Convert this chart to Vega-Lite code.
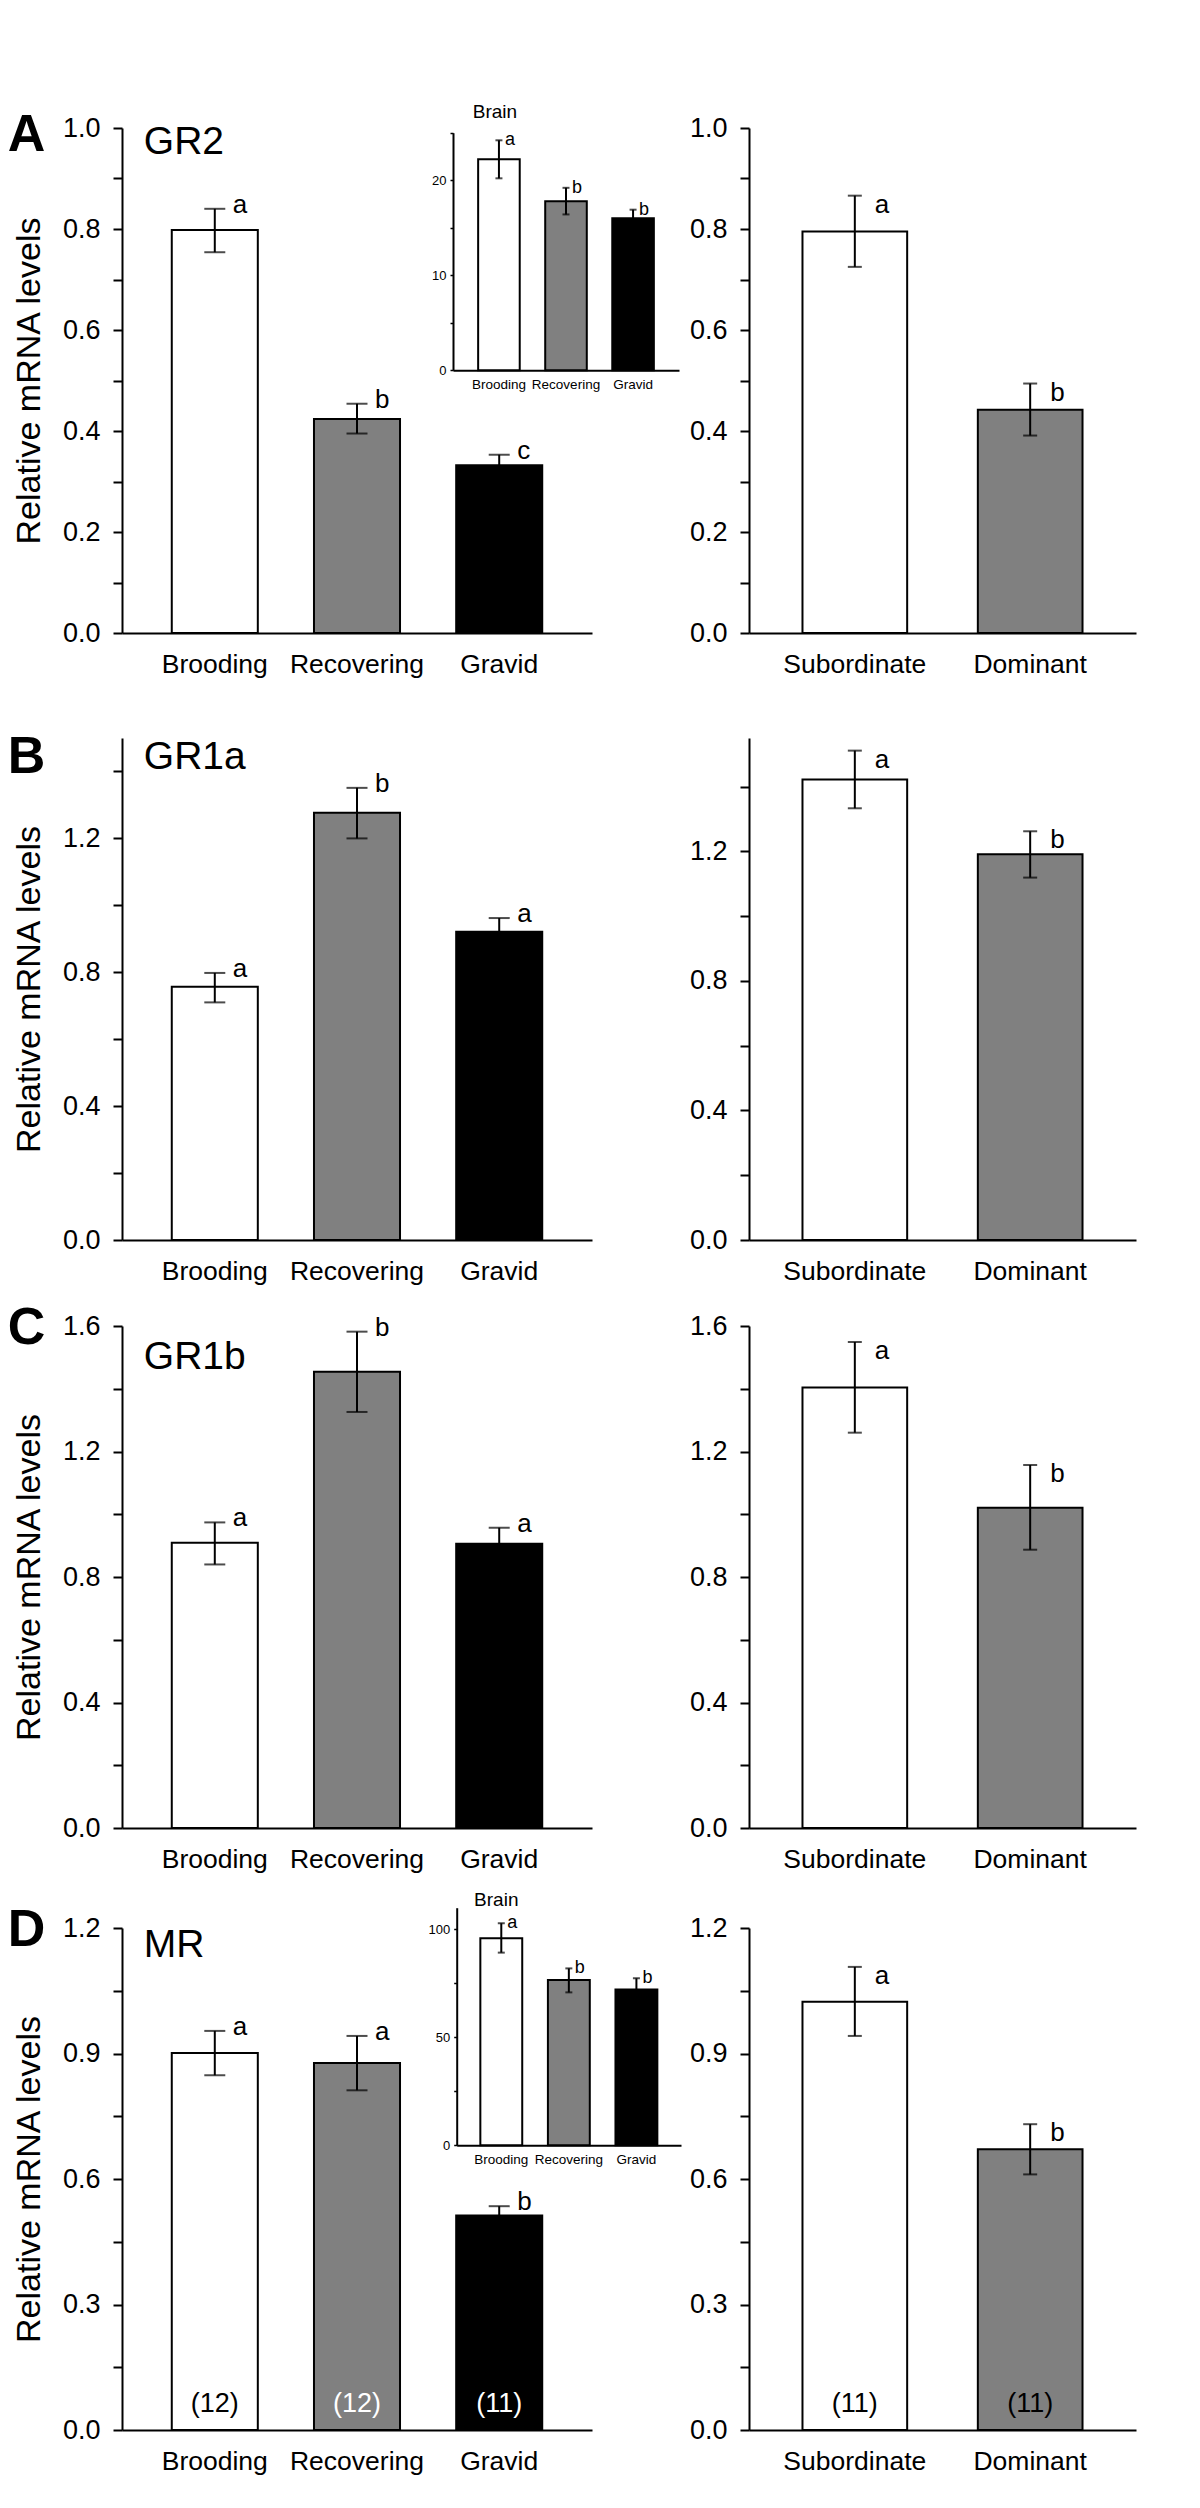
{
  "$schema": "https://vega.github.io/schema/vega-lite/v6.json",
  "padding": {"left": 7, "top": 102, "right": 10, "bottom": 10},
  "background": "white",
  "config": {
    "font": "Liberation Sans",
    "view": {"stroke": null},
    "axis": {"grid": false, "domainColor": "#000", "tickColor": "#000", "labelColor": "#000", "titleColor": "#000", "domainWidth": 2, "tickWidth": 2, "labelOverlap": false, "labelFlush": false, "labelFont": "Liberation Sans", "titleFont": "Liberation Sans"},
    "axisX": {"ticks": false, "labelAngle": 0, "labelFontSize": 26.5, "labelPadding": 18},
    "axisY": {"tickSize": 9, "labelFontSize": 27, "labelPadding": 13, "titleFontSize": 34, "titleFontWeight": "normal", "titlePadding": 16},
    "text": {"color": "#000", "font": "Liberation Sans"}
  },
  "datasets": {
    "A_left": [
      {"group": "Brooding", "mean": 0.798, "lo": 0.754, "hi": 0.840, "letter": "a", "gene": "GR2", "panel": "A"},
      {"group": "Recovering", "mean": 0.424, "lo": 0.395, "hi": 0.454, "letter": "b", "gene": "GR2", "panel": "A"},
      {"group": "Gravid", "mean": 0.332, "lo": 0.311, "hi": 0.353, "letter": "c", "gene": "GR2", "panel": "A"}
    ],
    "A_right": [
      {"group": "Subordinate", "mean": 0.795, "lo": 0.725, "hi": 0.866, "letter": "a"},
      {"group": "Dominant", "mean": 0.442, "lo": 0.391, "hi": 0.494, "letter": "b"}
    ],
    "A_inset": [
      {"group": "Brooding", "mean": 22.2, "lo": 20.2, "hi": 24.2, "letter": "a", "tissue": "Brain"},
      {"group": "Recovering", "mean": 17.8, "lo": 16.4, "hi": 19.2, "letter": "b", "tissue": "Brain"},
      {"group": "Gravid", "mean": 16.0, "lo": 15.1, "hi": 16.9, "letter": "b", "tissue": "Brain"}
    ],
    "B_left": [
      {"group": "Brooding", "mean": 0.757, "lo": 0.710, "hi": 0.798, "letter": "a", "gene": "GR1a", "panel": "B"},
      {"group": "Recovering", "mean": 1.277, "lo": 1.200, "hi": 1.351, "letter": "b", "gene": "GR1a", "panel": "B"},
      {"group": "Gravid", "mean": 0.921, "lo": 0.880, "hi": 0.962, "letter": "a", "gene": "GR1a", "panel": "B"}
    ],
    "B_right": [
      {"group": "Subordinate", "mean": 1.422, "lo": 1.333, "hi": 1.511, "letter": "a"},
      {"group": "Dominant", "mean": 1.191, "lo": 1.119, "hi": 1.262, "letter": "b"}
    ],
    "C_left": [
      {"group": "Brooding", "mean": 0.909, "lo": 0.840, "hi": 0.974, "letter": "a", "gene": "GR1b", "panel": "C"},
      {"group": "Recovering", "mean": 1.454, "lo": 1.326, "hi": 1.582, "letter": "b", "gene": "GR1b", "panel": "C"},
      {"group": "Gravid", "mean": 0.906, "lo": 0.855, "hi": 0.957, "letter": "a", "gene": "GR1b", "panel": "C"}
    ],
    "C_right": [
      {"group": "Subordinate", "mean": 1.404, "lo": 1.260, "hi": 1.549, "letter": "a"},
      {"group": "Dominant", "mean": 1.021, "lo": 0.887, "hi": 1.157, "letter": "b"}
    ],
    "D_left": [
      {"group": "Brooding", "mean": 0.901, "lo": 0.848, "hi": 0.954, "letter": "a", "n": "(12)", "gene": "MR", "panel": "D"},
      {"group": "Recovering", "mean": 0.877, "lo": 0.812, "hi": 0.942, "letter": "a", "n": "(12)", "gene": "MR", "panel": "D"},
      {"group": "Gravid", "mean": 0.513, "lo": 0.491, "hi": 0.535, "letter": "b", "n": "(11)", "gene": "MR", "panel": "D"}
    ],
    "D_right": [
      {"group": "Subordinate", "mean": 1.024, "lo": 0.942, "hi": 1.107, "letter": "a", "n": "(11)"},
      {"group": "Dominant", "mean": 0.671, "lo": 0.611, "hi": 0.731, "letter": "b", "n": "(11)"}
    ],
    "D_inset": [
      {"group": "Brooding", "mean": 95.8, "lo": 89.2, "hi": 102.8, "letter": "a", "tissue": "Brain"},
      {"group": "Recovering", "mean": 76.5, "lo": 70.8, "hi": 81.9, "letter": "b", "tissue": "Brain"},
      {"group": "Gravid", "mean": 72.1, "lo": 66.9, "hi": 77.3, "letter": "b", "tissue": "Brain"}
    ]
  },
  "columns": 2,
  "bounds": "flush",
  "spacing": {"row": 86, "column": 157},
  "concat": [
    {
      "width": 470, "height": 505,
      "resolve": {"scale": {"x": "independent", "y": "independent"}},
      "layer": [
        {
          "data": {"name": "A_left"},
          "layer": [
            {"mark": {"type": "bar", "stroke": "#000", "strokeWidth": 2},
             "encoding": {
               "x": {"field": "group", "type": "nominal", "scale": {"domain": ["Brooding", "Recovering", "Gravid"], "paddingInner": 0.395, "paddingOuter": 0.35}, "axis": {"title": null}},
               "y": {"field": "mean", "type": "quantitative", "scale": {"domain": [0, 1], "nice": false}, "axis": {"title": "Relative mRNA levels", "values": [0, 0.1, 0.2, 0.3, 0.4, 0.5, 0.6, 0.7, 0.8, 0.9, 1.0], "labelExpr": "round(datum.value*10) % 2 == 0 ? format(datum.value, '.1f') : ''"}},
               "fill": {"field": "group", "type": "nominal", "scale": {"domain": ["Brooding", "Recovering", "Gravid"], "range": ["#ffffff", "#808080", "#000000"]}, "legend": null}
             }},
            {"mark": {"type": "rule", "color": "#000", "strokeWidth": 2},
             "encoding": {"x": {"field": "group", "type": "nominal"}, "y": {"field": "lo", "type": "quantitative"}, "y2": {"field": "hi"}}},
            {"mark": {"type": "tick", "color": "#000", "thickness": 2, "size": 21},
             "encoding": {"x": {"field": "group", "type": "nominal"}, "y": {"field": "hi", "type": "quantitative"}}},
            {"mark": {"type": "tick", "color": "#000", "thickness": 2, "size": 21},
             "encoding": {"x": {"field": "group", "type": "nominal"}, "y": {"field": "lo", "type": "quantitative"}}},
            {"mark": {"type": "text", "align": "left", "baseline": "alphabetic", "dx": 18, "dy": 4, "fontSize": 26},
             "encoding": {"x": {"field": "group", "type": "nominal"}, "y": {"field": "hi", "type": "quantitative"}, "text": {"field": "letter"}}},
            {"transform": [{"filter": "datum.group == 'Brooding'"}],
             "mark": {"type": "text", "align": "left", "baseline": "alphabetic", "dx": -207, "fontSize": 52, "fontWeight": "bold"},
             "encoding": {"x": {"field": "group", "type": "nominal"}, "y": {"datum": 0.955, "type": "quantitative"}, "text": {"field": "panel"}}},
            {"transform": [{"filter": "datum.group == 'Brooding'"}],
             "mark": {"type": "text", "align": "left", "baseline": "alphabetic", "dx": -71, "fontSize": 39},
             "encoding": {"x": {"field": "group", "type": "nominal"}, "y": {"datum": 0.949, "type": "quantitative"}, "text": {"field": "gene"}}}
          ]
        },
        {
          "data": {"name": "A_inset"},
          "layer": [
            {"mark": {"type": "bar", "stroke": "#000", "strokeWidth": 2},
             "encoding": {
               "x": {"field": "group", "type": "nominal", "scale": {"domain": ["Brooding", "Recovering", "Gravid"], "range": [331, 557], "paddingInner": 0.38, "paddingOuter": 0.375}, "axis": {"orient": "bottom", "offset": -262.7, "title": null, "labelFontSize": 13.5, "labelPadding": 7}},
               "y": {"field": "mean", "type": "quantitative", "scale": {"domain": [0, 25], "range": [242.3, 4.7], "nice": false}, "axis": {"orient": "left", "offset": -331, "title": null, "values": [0, 5, 10, 15, 20, 25], "labelExpr": "datum.value % 10 == 0 ? datum.label : ''", "tickSize": 3, "tickWidth": 1.5, "labelFontSize": 13, "labelPadding": 4}},
               "fill": {"field": "group", "type": "nominal", "scale": {"domain": ["Brooding", "Recovering", "Gravid"], "range": ["#ffffff", "#808080", "#000000"]}, "legend": null}
             }},
            {"mark": {"type": "rule", "color": "#000", "strokeWidth": 2},
             "encoding": {"x": {"field": "group", "type": "nominal"}, "y": {"field": "lo", "type": "quantitative"}, "y2": {"field": "hi"}}},
            {"mark": {"type": "tick", "color": "#000", "thickness": 2, "size": 7},
             "encoding": {"x": {"field": "group", "type": "nominal"}, "y": {"field": "hi", "type": "quantitative"}}},
            {"mark": {"type": "tick", "color": "#000", "thickness": 2, "size": 7},
             "encoding": {"x": {"field": "group", "type": "nominal"}, "y": {"field": "lo", "type": "quantitative"}}},
            {"mark": {"type": "text", "align": "left", "baseline": "alphabetic", "dx": 6, "dy": 5, "fontSize": 18},
             "encoding": {"x": {"field": "group", "type": "nominal"}, "y": {"field": "hi", "type": "quantitative"}, "text": {"field": "letter"}}},
            {"transform": [{"filter": "datum.group == 'Brooding'"}],
             "mark": {"type": "text", "align": "center", "baseline": "alphabetic", "dx": -4, "dy": -15, "fontSize": 19},
             "encoding": {"x": {"field": "group", "type": "nominal"}, "y": {"datum": 25, "type": "quantitative"}, "text": {"field": "tissue"}}}
          ]
        }
      ]
    },
    {
      "width": 387, "height": 505,
      "data": {"name": "A_right"},
      "layer": [
        {"mark": {"type": "bar", "stroke": "#000", "strokeWidth": 2},
         "encoding": {
           "x": {"field": "group", "type": "nominal", "scale": {"domain": ["Subordinate", "Dominant"], "paddingInner": 0.403, "paddingOuter": 0.305}, "axis": {"title": null}},
           "y": {"field": "mean", "type": "quantitative", "scale": {"domain": [0, 1], "nice": false}, "axis": {"title": null, "values": [0, 0.1, 0.2, 0.3, 0.4, 0.5, 0.6, 0.7, 0.8, 0.9, 1.0], "labelExpr": "round(datum.value*10) % 2 == 0 ? format(datum.value, '.1f') : ''"}},
           "fill": {"field": "group", "type": "nominal", "scale": {"domain": ["Subordinate", "Dominant"], "range": ["#ffffff", "#808080"]}, "legend": null}
         }},
        {"mark": {"type": "rule", "color": "#000", "strokeWidth": 2},
         "encoding": {"x": {"field": "group", "type": "nominal"}, "y": {"field": "lo", "type": "quantitative"}, "y2": {"field": "hi"}}},
        {"mark": {"type": "tick", "color": "#000", "thickness": 2, "size": 14},
         "encoding": {"x": {"field": "group", "type": "nominal"}, "y": {"field": "hi", "type": "quantitative"}}},
        {"mark": {"type": "tick", "color": "#000", "thickness": 2, "size": 14},
         "encoding": {"x": {"field": "group", "type": "nominal"}, "y": {"field": "lo", "type": "quantitative"}}},
        {"mark": {"type": "text", "align": "left", "baseline": "alphabetic", "dx": 20, "dy": 17, "fontSize": 26},
         "encoding": {"x": {"field": "group", "type": "nominal"}, "y": {"field": "hi", "type": "quantitative"}, "text": {"field": "letter"}}}
      ]
    },
    {
      "width": 470, "height": 521,
      "data": {"name": "B_left"},
      "layer": [
        {"mark": {"type": "bar", "stroke": "#000", "strokeWidth": 2},
         "encoding": {
           "x": {"field": "group", "type": "nominal", "scale": {"domain": ["Brooding", "Recovering", "Gravid"], "paddingInner": 0.395, "paddingOuter": 0.35}, "axis": {"title": null}},
           "y": {"field": "mean", "type": "quantitative", "scale": {"domain": [0, 1.5], "range": [521, 19], "nice": false}, "axis": {"title": "Relative mRNA levels", "values": [0, 0.2, 0.4, 0.6, 0.8, 1.0, 1.2, 1.4], "labelExpr": "round(datum.value*5) % 2 == 0 ? format(datum.value, '.1f') : ''"}},
           "fill": {"field": "group", "type": "nominal", "scale": {"domain": ["Brooding", "Recovering", "Gravid"], "range": ["#ffffff", "#808080", "#000000"]}, "legend": null}
         }},
        {"mark": {"type": "rule", "color": "#000", "strokeWidth": 2},
         "encoding": {"x": {"field": "group", "type": "nominal"}, "y": {"field": "lo", "type": "quantitative"}, "y2": {"field": "hi"}}},
        {"mark": {"type": "tick", "color": "#000", "thickness": 2, "size": 21},
         "encoding": {"x": {"field": "group", "type": "nominal"}, "y": {"field": "hi", "type": "quantitative"}}},
        {"mark": {"type": "tick", "color": "#000", "thickness": 2, "size": 21},
         "encoding": {"x": {"field": "group", "type": "nominal"}, "y": {"field": "lo", "type": "quantitative"}}},
        {"mark": {"type": "text", "align": "left", "baseline": "alphabetic", "dx": 18, "dy": 4, "fontSize": 26},
         "encoding": {"x": {"field": "group", "type": "nominal"}, "y": {"field": "hi", "type": "quantitative"}, "text": {"field": "letter"}}},
        {"transform": [{"filter": "datum.group == 'Brooding'"}],
         "mark": {"type": "text", "align": "left", "baseline": "alphabetic", "dx": -207, "fontSize": 52, "fontWeight": "bold"},
         "encoding": {"x": {"field": "group", "type": "nominal"}, "y": {"datum": 1.394, "type": "quantitative"}, "text": {"field": "panel"}}},
        {"transform": [{"filter": "datum.group == 'Brooding'"}],
         "mark": {"type": "text", "align": "left", "baseline": "alphabetic", "dx": -71, "fontSize": 39},
         "encoding": {"x": {"field": "group", "type": "nominal"}, "y": {"datum": 1.407, "type": "quantitative"}, "text": {"field": "gene"}}}
      ]
    },
    {
      "width": 387, "height": 521,
      "data": {"name": "B_right"},
      "layer": [
        {"mark": {"type": "bar", "stroke": "#000", "strokeWidth": 2},
         "encoding": {
           "x": {"field": "group", "type": "nominal", "scale": {"domain": ["Subordinate", "Dominant"], "paddingInner": 0.403, "paddingOuter": 0.305}, "axis": {"title": null}},
           "y": {"field": "mean", "type": "quantitative", "scale": {"domain": [0, 1.55], "range": [521, 19], "nice": false}, "axis": {"title": null, "values": [0, 0.2, 0.4, 0.6, 0.8, 1.0, 1.2, 1.4], "labelExpr": "round(datum.value*5) % 2 == 0 ? format(datum.value, '.1f') : ''"}},
           "fill": {"field": "group", "type": "nominal", "scale": {"domain": ["Subordinate", "Dominant"], "range": ["#ffffff", "#808080"]}, "legend": null}
         }},
        {"mark": {"type": "rule", "color": "#000", "strokeWidth": 2},
         "encoding": {"x": {"field": "group", "type": "nominal"}, "y": {"field": "lo", "type": "quantitative"}, "y2": {"field": "hi"}}},
        {"mark": {"type": "tick", "color": "#000", "thickness": 2, "size": 14},
         "encoding": {"x": {"field": "group", "type": "nominal"}, "y": {"field": "hi", "type": "quantitative"}}},
        {"mark": {"type": "tick", "color": "#000", "thickness": 2, "size": 14},
         "encoding": {"x": {"field": "group", "type": "nominal"}, "y": {"field": "lo", "type": "quantitative"}}},
        {"mark": {"type": "text", "align": "left", "baseline": "alphabetic", "dx": 20, "dy": 17, "fontSize": 26},
         "encoding": {"x": {"field": "group", "type": "nominal"}, "y": {"field": "hi", "type": "quantitative"}, "text": {"field": "letter"}}}
      ]
    },
    {
      "width": 470, "height": 502,
      "data": {"name": "C_left"},
      "layer": [
        {"mark": {"type": "bar", "stroke": "#000", "strokeWidth": 2},
         "encoding": {
           "x": {"field": "group", "type": "nominal", "scale": {"domain": ["Brooding", "Recovering", "Gravid"], "paddingInner": 0.395, "paddingOuter": 0.35}, "axis": {"title": null}},
           "y": {"field": "mean", "type": "quantitative", "scale": {"domain": [0, 1.6], "nice": false}, "axis": {"title": "Relative mRNA levels", "values": [0, 0.2, 0.4, 0.6, 0.8, 1.0, 1.2, 1.4, 1.6], "labelExpr": "round(datum.value*5) % 2 == 0 ? format(datum.value, '.1f') : ''"}},
           "fill": {"field": "group", "type": "nominal", "scale": {"domain": ["Brooding", "Recovering", "Gravid"], "range": ["#ffffff", "#808080", "#000000"]}, "legend": null}
         }},
        {"mark": {"type": "rule", "color": "#000", "strokeWidth": 2},
         "encoding": {"x": {"field": "group", "type": "nominal"}, "y": {"field": "lo", "type": "quantitative"}, "y2": {"field": "hi"}}},
        {"mark": {"type": "tick", "color": "#000", "thickness": 2, "size": 21},
         "encoding": {"x": {"field": "group", "type": "nominal"}, "y": {"field": "hi", "type": "quantitative"}}},
        {"mark": {"type": "tick", "color": "#000", "thickness": 2, "size": 21},
         "encoding": {"x": {"field": "group", "type": "nominal"}, "y": {"field": "lo", "type": "quantitative"}}},
        {"mark": {"type": "text", "align": "left", "baseline": "alphabetic", "dx": 18, "dy": 4, "fontSize": 26},
         "encoding": {"x": {"field": "group", "type": "nominal"}, "y": {"field": "hi", "type": "quantitative"}, "text": {"field": "letter"}}},
        {"transform": [{"filter": "datum.group == 'Brooding'"}],
         "mark": {"type": "text", "align": "left", "baseline": "alphabetic", "dx": -207, "fontSize": 52, "fontWeight": "bold"},
         "encoding": {"x": {"field": "group", "type": "nominal"}, "y": {"datum": 1.543, "type": "quantitative"}, "text": {"field": "panel"}}},
        {"transform": [{"filter": "datum.group == 'Brooding'"}],
         "mark": {"type": "text", "align": "left", "baseline": "alphabetic", "dx": -71, "fontSize": 39},
         "encoding": {"x": {"field": "group", "type": "nominal"}, "y": {"datum": 1.463, "type": "quantitative"}, "text": {"field": "gene"}}}
      ]
    },
    {
      "width": 387, "height": 502,
      "data": {"name": "C_right"},
      "layer": [
        {"mark": {"type": "bar", "stroke": "#000", "strokeWidth": 2},
         "encoding": {
           "x": {"field": "group", "type": "nominal", "scale": {"domain": ["Subordinate", "Dominant"], "paddingInner": 0.403, "paddingOuter": 0.305}, "axis": {"title": null}},
           "y": {"field": "mean", "type": "quantitative", "scale": {"domain": [0, 1.6], "nice": false}, "axis": {"title": null, "values": [0, 0.2, 0.4, 0.6, 0.8, 1.0, 1.2, 1.4, 1.6], "labelExpr": "round(datum.value*5) % 2 == 0 ? format(datum.value, '.1f') : ''"}},
           "fill": {"field": "group", "type": "nominal", "scale": {"domain": ["Subordinate", "Dominant"], "range": ["#ffffff", "#808080"]}, "legend": null}
         }},
        {"mark": {"type": "rule", "color": "#000", "strokeWidth": 2},
         "encoding": {"x": {"field": "group", "type": "nominal"}, "y": {"field": "lo", "type": "quantitative"}, "y2": {"field": "hi"}}},
        {"mark": {"type": "tick", "color": "#000", "thickness": 2, "size": 14},
         "encoding": {"x": {"field": "group", "type": "nominal"}, "y": {"field": "hi", "type": "quantitative"}}},
        {"mark": {"type": "tick", "color": "#000", "thickness": 2, "size": 14},
         "encoding": {"x": {"field": "group", "type": "nominal"}, "y": {"field": "lo", "type": "quantitative"}}},
        {"mark": {"type": "text", "align": "left", "baseline": "alphabetic", "dx": 20, "dy": 17, "fontSize": 26},
         "encoding": {"x": {"field": "group", "type": "nominal"}, "y": {"field": "hi", "type": "quantitative"}, "text": {"field": "letter"}}}
      ]
    },
    {
      "width": 470, "height": 516,
      "resolve": {"scale": {"x": "independent", "y": "independent"}},
      "layer": [
        {
          "data": {"name": "D_left"},
          "layer": [
            {"mark": {"type": "bar", "stroke": "#000", "strokeWidth": 2},
             "encoding": {
               "x": {"field": "group", "type": "nominal", "scale": {"domain": ["Brooding", "Recovering", "Gravid"], "paddingInner": 0.395, "paddingOuter": 0.35}, "axis": {"title": null}},
               "y": {"field": "mean", "type": "quantitative", "scale": {"domain": [0, 1.2], "range": [516, 14], "nice": false}, "axis": {"title": "Relative mRNA levels", "values": [0, 0.15, 0.3, 0.45, 0.6, 0.75, 0.9, 1.05, 1.2], "labelExpr": "round(datum.value/0.15) % 2 == 0 ? format(datum.value, '.1f') : ''"}},
               "fill": {"field": "group", "type": "nominal", "scale": {"domain": ["Brooding", "Recovering", "Gravid"], "range": ["#ffffff", "#808080", "#000000"]}, "legend": null}
             }},
            {"mark": {"type": "rule", "color": "#000", "strokeWidth": 2},
             "encoding": {"x": {"field": "group", "type": "nominal"}, "y": {"field": "lo", "type": "quantitative"}, "y2": {"field": "hi"}}},
            {"mark": {"type": "tick", "color": "#000", "thickness": 2, "size": 21},
             "encoding": {"x": {"field": "group", "type": "nominal"}, "y": {"field": "hi", "type": "quantitative"}}},
            {"mark": {"type": "tick", "color": "#000", "thickness": 2, "size": 21},
             "encoding": {"x": {"field": "group", "type": "nominal"}, "y": {"field": "lo", "type": "quantitative"}}},
            {"mark": {"type": "text", "align": "left", "baseline": "alphabetic", "dx": 18, "dy": 4, "fontSize": 26},
             "encoding": {"x": {"field": "group", "type": "nominal"}, "y": {"field": "hi", "type": "quantitative"}, "text": {"field": "letter"}}},
            {"mark": {"type": "text", "align": "center", "baseline": "middle", "dy": -26, "fontSize": 27},
             "encoding": {"x": {"field": "group", "type": "nominal"}, "y": {"datum": 0, "type": "quantitative"}, "text": {"field": "n"},
               "color": {"field": "group", "type": "nominal", "scale": {"domain": ["Brooding", "Recovering", "Gravid"], "range": ["#000000", "#ffffff", "#ffffff"]}, "legend": null}}},
            {"transform": [{"filter": "datum.group == 'Brooding'"}],
             "mark": {"type": "text", "align": "left", "baseline": "alphabetic", "dx": -207, "fontSize": 52, "fontWeight": "bold"},
             "encoding": {"x": {"field": "group", "type": "nominal"}, "y": {"datum": 1.157, "type": "quantitative"}, "text": {"field": "panel"}}},
            {"transform": [{"filter": "datum.group == 'Brooding'"}],
             "mark": {"type": "text", "align": "left", "baseline": "alphabetic", "dx": -71, "fontSize": 39},
             "encoding": {"x": {"field": "group", "type": "nominal"}, "y": {"datum": 1.131, "type": "quantitative"}, "text": {"field": "gene"}}}
          ]
        },
        {
          "data": {"name": "D_inset"},
          "layer": [
            {"mark": {"type": "bar", "stroke": "#000", "strokeWidth": 2},
             "encoding": {
               "x": {"field": "group", "type": "nominal", "scale": {"domain": ["Brooding", "Recovering", "Gravid"], "range": [334.7, 559], "paddingInner": 0.38, "paddingOuter": 0.35}, "axis": {"orient": "bottom", "offset": -284.7, "title": null, "labelFontSize": 13.5, "labelPadding": 7}},
               "y": {"field": "mean", "type": "quantitative", "scale": {"domain": [0, 110], "range": [231.3, -6.3], "nice": false}, "axis": {"orient": "left", "offset": -334.7, "title": null, "values": [0, 25, 50, 75, 100], "labelExpr": "datum.value % 50 == 0 ? datum.label : ''", "tickSize": 3, "tickWidth": 1.5, "labelFontSize": 13, "labelPadding": 4}},
               "fill": {"field": "group", "type": "nominal", "scale": {"domain": ["Brooding", "Recovering", "Gravid"], "range": ["#ffffff", "#808080", "#000000"]}, "legend": null}
             }},
            {"mark": {"type": "rule", "color": "#000", "strokeWidth": 2},
             "encoding": {"x": {"field": "group", "type": "nominal"}, "y": {"field": "lo", "type": "quantitative"}, "y2": {"field": "hi"}}},
            {"mark": {"type": "tick", "color": "#000", "thickness": 2, "size": 7},
             "encoding": {"x": {"field": "group", "type": "nominal"}, "y": {"field": "hi", "type": "quantitative"}}},
            {"mark": {"type": "tick", "color": "#000", "thickness": 2, "size": 7},
             "encoding": {"x": {"field": "group", "type": "nominal"}, "y": {"field": "lo", "type": "quantitative"}}},
            {"mark": {"type": "text", "align": "left", "baseline": "alphabetic", "dx": 6, "dy": 5, "fontSize": 18},
             "encoding": {"x": {"field": "group", "type": "nominal"}, "y": {"field": "hi", "type": "quantitative"}, "text": {"field": "letter"}}},
            {"transform": [{"filter": "datum.group == 'Brooding'"}],
             "mark": {"type": "text", "align": "center", "baseline": "alphabetic", "dx": -5, "dy": -2, "fontSize": 19},
             "encoding": {"x": {"field": "group", "type": "nominal"}, "y": {"datum": 110, "type": "quantitative"}, "text": {"field": "tissue"}}}
          ]
        }
      ]
    },
    {
      "width": 387, "height": 516,
      "data": {"name": "D_right"},
      "layer": [
        {"mark": {"type": "bar", "stroke": "#000", "strokeWidth": 2},
         "encoding": {
           "x": {"field": "group", "type": "nominal", "scale": {"domain": ["Subordinate", "Dominant"], "paddingInner": 0.403, "paddingOuter": 0.305}, "axis": {"title": null}},
           "y": {"field": "mean", "type": "quantitative", "scale": {"domain": [0, 1.2], "range": [516, 14], "nice": false}, "axis": {"title": null, "values": [0, 0.15, 0.3, 0.45, 0.6, 0.75, 0.9, 1.05, 1.2], "labelExpr": "round(datum.value/0.15) % 2 == 0 ? format(datum.value, '.1f') : ''"}},
           "fill": {"field": "group", "type": "nominal", "scale": {"domain": ["Subordinate", "Dominant"], "range": ["#ffffff", "#808080"]}, "legend": null}
         }},
        {"mark": {"type": "rule", "color": "#000", "strokeWidth": 2},
         "encoding": {"x": {"field": "group", "type": "nominal"}, "y": {"field": "lo", "type": "quantitative"}, "y2": {"field": "hi"}}},
        {"mark": {"type": "tick", "color": "#000", "thickness": 2, "size": 14},
         "encoding": {"x": {"field": "group", "type": "nominal"}, "y": {"field": "hi", "type": "quantitative"}}},
        {"mark": {"type": "tick", "color": "#000", "thickness": 2, "size": 14},
         "encoding": {"x": {"field": "group", "type": "nominal"}, "y": {"field": "lo", "type": "quantitative"}}},
        {"mark": {"type": "text", "align": "left", "baseline": "alphabetic", "dx": 20, "dy": 17, "fontSize": 26},
         "encoding": {"x": {"field": "group", "type": "nominal"}, "y": {"field": "hi", "type": "quantitative"}, "text": {"field": "letter"}}},
        {"mark": {"type": "text", "align": "center", "baseline": "middle", "dy": -26, "fontSize": 27},
         "encoding": {"x": {"field": "group", "type": "nominal"}, "y": {"datum": 0, "type": "quantitative"}, "text": {"field": "n"}}}
      ]
    }
  ]
}
